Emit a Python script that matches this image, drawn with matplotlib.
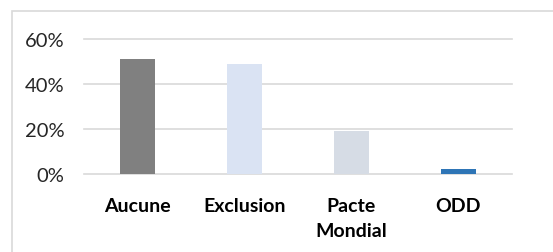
import matplotlib.pyplot as plt
from matplotlib.patches import Rectangle
from matplotlib.ticker import PercentFormatter

# Données
categories = ['Aucune', 'Exclusion', 'Pacte\nMondial', 'ODD']
values = [51.1, 48.9, 19.0, 2.0]
colors = ['#808080', '#DAE3F3', '#D6DCE5', '#2E75B6']
yticks = [0, 20, 40, 60]

plt.rcParams['font.family'] = ['Lato', 'DejaVu Sans']

fig = plt.figure(figsize=(5.53, 2.53), dpi=100)
ax = fig.add_axes([84 / 553, 1 - 174.5 / 253, (512 - 84) / 553, (174.5 - 40) / 253])

# cadre du graphique (coupé à droite et en bas)
fig.patches.append(Rectangle((12 / 553, -0.1), 1.2, 1.1 - 12 / 253, transform=fig.transFigure,
                             fill=False, edgecolor='#D9D9D9', linewidth=1.2))

x = range(len(categories))
ax.bar(x, values, width=0.32, color=colors, zorder=3)

ax.set_xlim(-0.5, 3.5)
ax.set_ylim(0, 60)
ax.set_yticks(yticks)
ax.yaxis.set_major_formatter(PercentFormatter(decimals=0))
ax.set_xticks(list(x))
ax.set_xticklabels(categories, fontweight='bold', fontsize=14, linespacing=1.55)
ax.tick_params(axis='y', labelsize=14.5, length=0, pad=14, colors='#262626')
ax.tick_params(axis='x', length=0, pad=17, colors='#000000')

ax.grid(axis='y', color='#D9D9D9', linewidth=1.2, zorder=0)
for s in ax.spines.values():
    s.set_visible(False)
for line in ax.get_ygridlines():
    line.set_clip_on(False)

fig.savefig('out.png', dpi=100)
